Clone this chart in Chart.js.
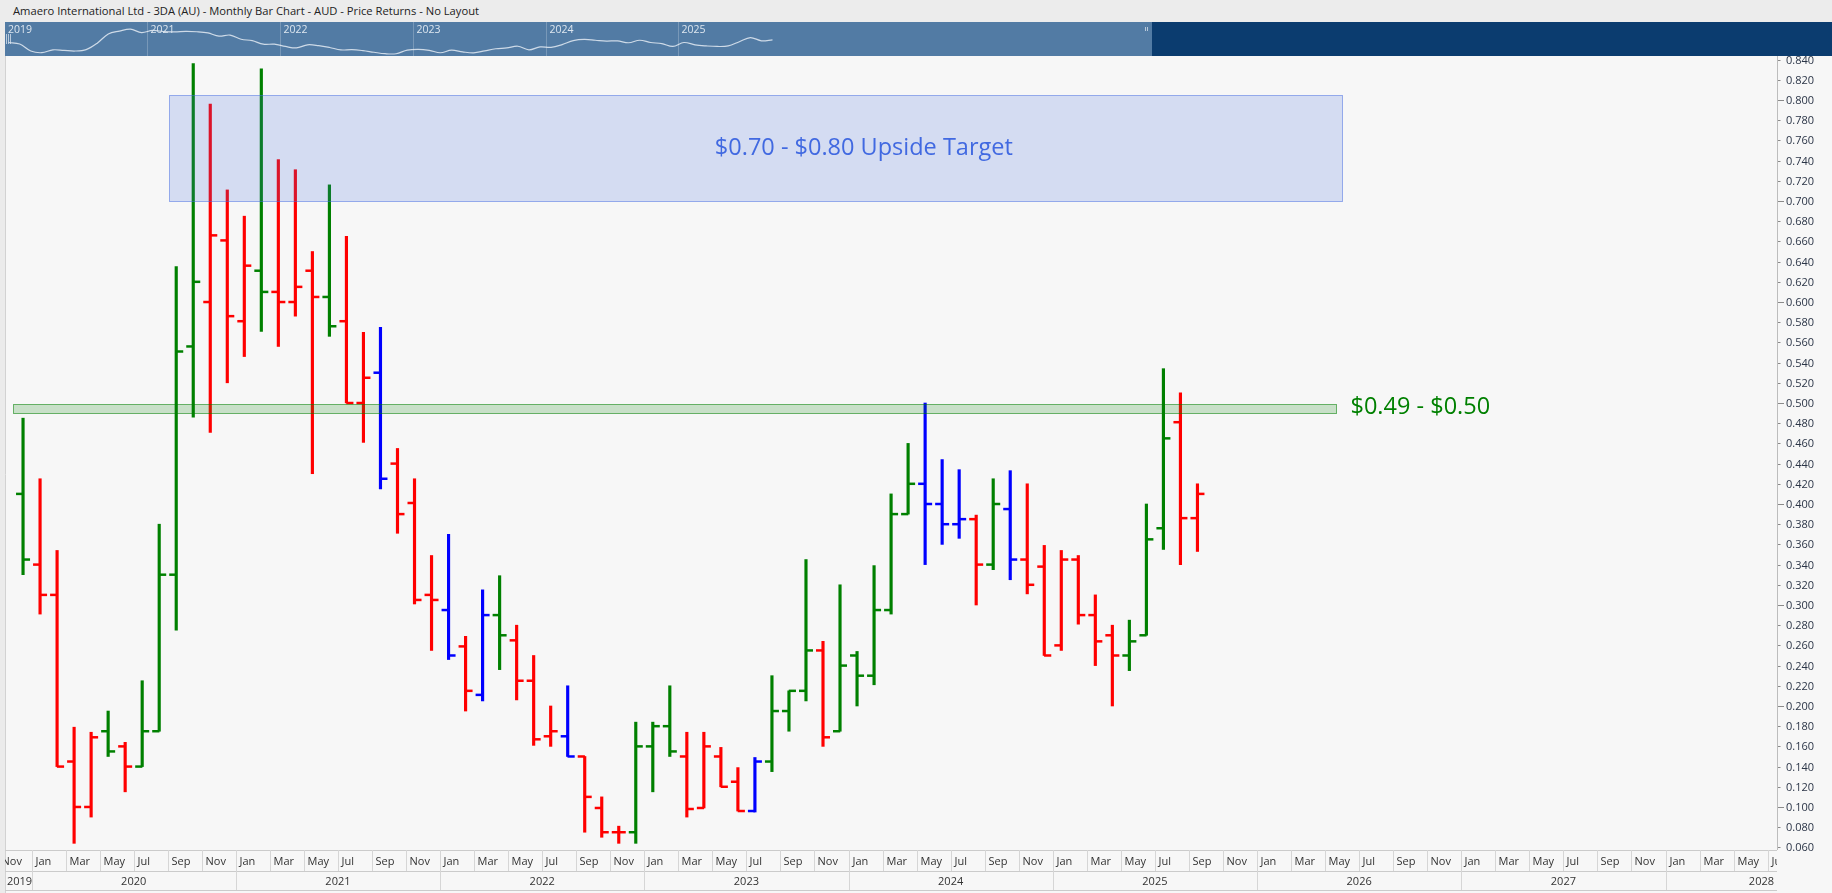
<!DOCTYPE html>
<html lang="en">
<head>
<meta charset="UTF-8">
<title>3DA Monthly Bar Chart</title>
<script src="https://cdn.jsdelivr.net/npm/chart.js"></script>
<style>
  body { margin:0; background:#ebebeb; width:1832px; height:893px; overflow:hidden; font-family:"Open Sans", "Noto Sans", sans-serif; }
  #title { position:absolute; left:0; top:0; width:1832px; height:22px; background:#ececec; font-size:11.2px; color:#222; line-height:22px; padding-left:13px; box-sizing:border-box; white-space:nowrap; }
  #nav { position:absolute; left:5px; top:22px; width:1827px; height:34px; background:#0b3c6f; }
  #navSel { position:absolute; left:0; top:0; width:1147px; height:34px; background:#527ba4; }
  #navChart { position:absolute; left:0; top:0; }
  #mainChart { position:absolute; left:0; top:56px; }
</style>
</head>
<body>
<div id="title">Amaero International Ltd - 3DA (AU) - Monthly Bar Chart - AUD - Price Returns - No Layout</div>
<div id="nav"><div id="navSel"></div><canvas id="navChart" width="1147" height="34"></canvas></div>
<canvas id="mainChart" width="1832" height="837"></canvas>

<script>
Chart.defaults.font.family = '"Open Sans", "Noto Sans", sans-serif';

// months are counted from Jan 2020 = 0; first bar is Dec 2019
const monthNames = ['Jan','Feb','Mar','Apr','May','Jun','Jul','Aug','Sep','Oct','Nov','Dec'];
const firstBarMonth = -1;

// monthly OHLC, Dec 2019 .. Sep 2025
const opens = [0.410,0.340,0.310,0.145,0.100,0.175,0.160,0.140,0.175,0.330,0.556,0.600,0.661,0.581,0.631,0.610,0.600,0.631,0.605,0.581,
  0.500,0.530,0.440,0.401,0.310,0.295,0.259,0.211,0.290,0.265,0.225,0.170,0.170,0.150,0.099,0.075,0.075,0.160,0.180,0.150,
  0.099,0.150,0.125,0.096,0.145,0.195,0.215,0.255,0.175,0.250,0.230,0.295,0.390,0.420,0.400,0.380,0.385,0.340,0.395,0.345,
  0.338,0.260,0.345,0.290,0.270,0.250,0.270,0.376,0.481,0.386];
const highs = [0.485,0.425,0.354,0.179,0.174,0.195,0.164,0.225,0.380,0.635,0.836,0.796,0.711,0.685,0.831,0.741,0.731,0.650,0.716,0.665,
  0.570,0.575,0.455,0.425,0.349,0.370,0.269,0.315,0.329,0.280,0.250,0.200,0.220,0.150,0.110,0.081,0.184,0.184,0.220,0.174,
  0.174,0.159,0.139,0.149,0.230,0.215,0.345,0.264,0.320,0.254,0.339,0.410,0.460,0.500,0.444,0.434,0.389,0.425,0.433,0.420,
  0.359,0.354,0.349,0.310,0.280,0.285,0.400,0.534,0.510,0.420];
const lows = [0.330,0.291,0.140,0.064,0.090,0.150,0.115,0.140,0.175,0.275,0.486,0.471,0.520,0.546,0.571,0.556,0.586,0.430,0.566,0.500,
  0.461,0.415,0.371,0.301,0.255,0.246,0.195,0.205,0.236,0.206,0.161,0.160,0.150,0.075,0.070,0.064,0.064,0.115,0.150,0.090,
  0.099,0.120,0.096,0.095,0.135,0.175,0.205,0.160,0.175,0.200,0.221,0.291,0.390,0.340,0.360,0.366,0.300,0.335,0.325,0.311,
  0.250,0.255,0.281,0.240,0.200,0.235,0.270,0.355,0.340,0.353];
const closes = [0.345,0.310,0.140,0.100,0.169,0.155,0.140,0.175,0.330,0.551,0.620,0.666,0.586,0.636,0.610,0.600,0.615,0.605,0.576,0.500,
  0.525,0.425,0.390,0.305,0.305,0.250,0.215,0.290,0.270,0.225,0.167,0.175,0.150,0.110,0.075,0.075,0.160,0.180,0.155,0.098,
  0.160,0.120,0.096,0.145,0.195,0.215,0.255,0.169,0.240,0.230,0.295,0.390,0.420,0.400,0.380,0.385,0.340,0.400,0.345,0.320,
  0.250,0.345,0.290,0.264,0.250,0.264,0.365,0.465,0.386,0.410];
// bar colouring state as shown on the chart
const signal = ['up','down','down','down','down','up','down','up','up','up','up','down','down','down','up','down','down','down','up','down',
  'down','flat','down','down','down','flat','down','flat','up','down','down','down','flat','down','down','down','up','up','up','down',
  'down','down','down','flat','up','up','up','down','up','up','up','up','up','flat','flat','flat','down','up','flat','down',
  'down','down','down','down','down','up','up','up','down','down'];

// price axis ticks
const yTickValues = [];
for (let v = 60; v <= 840; v += 20) yTickValues.push(v / 1000);

// drawn zones
const targetZone = { from: 0.700, to: 0.805, start: 8.1, end: 77.0, labelAt: 48.9, label: '$0.70 - $0.80 Upside Target' };
const levelZone = { from: 0.4898, to: 0.4987, start: -1.08, end: 76.65, label: '$0.49 - $0.50' };

const signalColor = { up: '#008000', down: '#ff0000', flat: '#0000ff' };
const barColors = signal.map(s => signalColor[s]);
const barX = i => firstBarMonth + i + 0.5;

const xMin = -1.56, xMax = 102.55;

// ---------- navigator ----------
const navYears = [2021, 2022, 2023, 2024, 2025];
const navPlugin = {
  id: 'navDecor',
  afterDraw(chart) {
    const ctx = chart.ctx, xs = chart.scales.x;
    ctx.save();
    ctx.font = '10.5px "Open Sans", sans-serif';
    ctx.textBaseline = 'middle';
    ctx.fillStyle = '#dde6ef';
    ctx.fillText('2019', 3, 8);
    navYears.forEach(y => {
      const px = Math.round(xs.getPixelForValue((y - 2020) * 12)) + 0.5;
      ctx.strokeStyle = 'rgba(255,255,255,0.22)';
      ctx.beginPath(); ctx.moveTo(px, 0); ctx.lineTo(px, 34); ctx.stroke();
      ctx.fillText(String(y), px + 3, 8);
    });
    ctx.strokeStyle = 'rgba(230,236,244,0.7)';
    [1.5, 3.5, 5.5].forEach(o => { ctx.beginPath(); ctx.moveTo(o, 12); ctx.lineTo(o, 22); ctx.stroke(); });
    [1140.5, 1142.5].forEach(o => { ctx.beginPath(); ctx.moveTo(o, 5); ctx.lineTo(o, 9); ctx.stroke(); });
    ctx.restore();
  }
};
new Chart(document.getElementById('navChart'), {
  type: 'line',
  data: { datasets: [{
    data: closes.map((c, i) => ({ x: barX(i), y: c })),
    borderColor: 'rgba(228,235,243,0.85)', borderWidth: 1.2, tension: 0.35, pointRadius: 0
  }]},
  options: {
    responsive: false, animation: false, events: [],
    layout: { padding: 0, autoPadding: false },
    plugins: { legend: { display: false }, tooltip: { enabled: false } },
    scales: {
      x: { type: 'linear', display: false, min: -0.83, max: 102.78 },
      y: { display: false, min: 0.02, max: 0.84 }
    }
  },
  plugins: [navPlugin]
});

// ---------- main chart ----------
const framePlugin = {
  id: 'frame',
  beforeDraw(chart) {
    const ctx = chart.ctx;
    ctx.save();
    ctx.fillStyle = '#ebebeb';
    ctx.fillRect(0, 0, chart.width, chart.height);
    ctx.fillStyle = '#f7f7f7';
    ctx.fillRect(5, 0, chart.width - 5, chart.height);
    ctx.strokeStyle = '#d2d2d2';
    ctx.beginPath(); ctx.moveTo(5.5, 0); ctx.lineTo(5.5, chart.height); ctx.stroke();
    ctx.restore();
  }
};

function drawZone(chart, z, fill, stroke) {
  const ctx = chart.ctx, xs = chart.scales.x, ys = chart.scales.y;
  const x0 = Math.round(xs.getPixelForValue(z.start)) + 0.5;
  const x1 = Math.round(xs.getPixelForValue(z.end)) + 0.5;
  const y0 = Math.round(ys.getPixelForValue(z.to)) + 0.5;
  const y1 = Math.round(ys.getPixelForValue(z.from)) + 0.5;
  ctx.fillStyle = fill;
  ctx.fillRect(x0, y0, x1 - x0, y1 - y0);
  ctx.strokeStyle = stroke;
  ctx.lineWidth = 1;
  ctx.strokeRect(x0, y0, x1 - x0, y1 - y0);
  return { x0, x1, y0, y1 };
}

const zonePlugin = {
  id: 'zones',
  afterDatasetsDraw(chart) {
    const ctx = chart.ctx, xs = chart.scales.x;
    ctx.save();
    const t = drawZone(chart, targetZone, 'rgba(65,105,225,0.19)', 'rgba(65,105,225,0.5)');
    ctx.font = '23.5px "Open Sans", sans-serif';
    ctx.fillStyle = '#4169e1';
    ctx.textAlign = 'center';
    ctx.textBaseline = 'middle';
    ctx.fillText(targetZone.label, xs.getPixelForValue(targetZone.labelAt), (t.y0 + t.y1) / 2);
    const g = drawZone(chart, levelZone, 'rgba(0,128,0,0.19)', 'rgba(0,128,0,0.55)');
    ctx.fillStyle = '#008000';
    ctx.textAlign = 'left';
    ctx.fillText(levelZone.label, g.x1 + 14, (g.y0 + g.y1) / 2 - 2);
    ctx.restore();
  }
};

const axisPlugin = {
  id: 'axes',
  afterDraw(chart) {
    const ctx = chart.ctx, xs = chart.scales.x, ys = chart.scales.y, a = chart.chartArea;
    ctx.save();
    // price axis: line, tick marks and labels
    ctx.strokeStyle = '#bdbdbd';
    ctx.lineWidth = 1;
    ctx.beginPath(); ctx.moveTo(a.right + 0.5, 0); ctx.lineTo(a.right + 0.5, a.bottom); ctx.stroke();
    ctx.font = '11px "Open Sans", sans-serif';
    ctx.fillStyle = '#2b3547';
    ctx.textAlign = 'left';
    ctx.textBaseline = 'middle';
    yTickValues.forEach(v => {
      const py = Math.round(ys.getPixelForValue(v)) + 0.5;
      const major = Math.round(v * 1000) % 100 === 0;
      ctx.strokeStyle = '#8a8a8a';
      ctx.beginPath(); ctx.moveTo(a.right + 1, py); ctx.lineTo(a.right + (major ? 7 : 3.5), py); ctx.stroke();
      ctx.fillText(v.toFixed(3), a.right + 9, py);
    });
    // time axis rows
    const r0 = a.bottom, r1 = a.bottom + 21, r2 = a.bottom + 40;
    ctx.beginPath();
    ctx.rect(a.left, r0, a.right - a.left, chart.height - r0);
    ctx.clip();
    ctx.strokeStyle = '#cbcbcb';
    [r0, r1, r2].forEach(r => { ctx.beginPath(); ctx.moveTo(a.left, r + 0.5); ctx.lineTo(a.right, r + 0.5); ctx.stroke(); });
    ctx.fillStyle = '#333';
    for (let m = -2; m <= 103; m++) {
      const mi = ((m % 12) + 12) % 12;
      if (mi % 2 !== 0) continue;
      const px = Math.round(xs.getPixelForValue(m)) + 0.5;
      ctx.strokeStyle = '#d6d6d6';
      ctx.beginPath(); ctx.moveTo(px, r0); ctx.lineTo(px, r1); ctx.stroke();
      ctx.fillText(monthNames[mi], px + 3, (r0 + r1) / 2 + 1);
    }
    for (let y = 2019; y <= 2028; y++) {
      const s = xs.getPixelForValue((y - 2020) * 12);
      const e = xs.getPixelForValue((y - 2019) * 12);
      const px = Math.round(s) + 0.5;
      ctx.strokeStyle = '#d6d6d6';
      ctx.beginPath(); ctx.moveTo(px, r1); ctx.lineTo(px, r2); ctx.stroke();
      const w = ctx.measureText(String(y)).width;
      let cx = (s + e) / 2;
      cx = Math.max(a.left + 2 + w / 2, Math.min(a.right - 3 - w / 2, cx));
      ctx.textAlign = 'center';
      ctx.fillText(String(y), cx, (r1 + r2) / 2 + 1);
      ctx.textAlign = 'left';
    }
    ctx.restore();
  }
};

new Chart(document.getElementById('mainChart'), {
  type: 'bar',
  data: {
    datasets: [
      {
        type: 'bar',
        data: highs.map((h, i) => ({ x: barX(i), y: [lows[i], h] })),
        backgroundColor: barColors,
        borderWidth: 0,
        barThickness: 2.5,
        order: 2
      },
      {
        type: 'line',
        showLine: false,
        data: opens.map((o, i) => ({ x: barX(i) - 0.2, y: o })),
        pointStyle: 'line', pointRadius: 3.6, pointBorderWidth: 2.5,
        pointBorderColor: barColors, pointBackgroundColor: barColors,
        order: 1
      },
      {
        type: 'line',
        showLine: false,
        data: closes.map((c, i) => ({ x: barX(i) + 0.2, y: c })),
        pointStyle: 'line', pointRadius: 3.6, pointBorderWidth: 2.5,
        pointBorderColor: barColors, pointBackgroundColor: barColors,
        order: 1
      }
    ]
  },
  options: {
    responsive: false, animation: false, events: [],
    layout: { padding: { left: 5, top: 0, right: 0, bottom: 0 }, autoPadding: false },
    plugins: { legend: { display: false }, tooltip: { enabled: false } },
    scales: {
      x: {
        type: 'linear', min: xMin, max: xMax, offset: false,
        grid: { display: false }, border: { display: false },
        ticks: { display: false },
        afterFit(s) { s.height = 43; }
      },
      y: {
        position: 'right', min: 0.0574, max: 0.8436,
        grid: { display: false }, border: { display: false },
        ticks: { display: false },
        afterFit(s) { s.width = 55; }
      }
    }
  },
  plugins: [framePlugin, zonePlugin, axisPlugin]
});
</script>
</body>
</html>
